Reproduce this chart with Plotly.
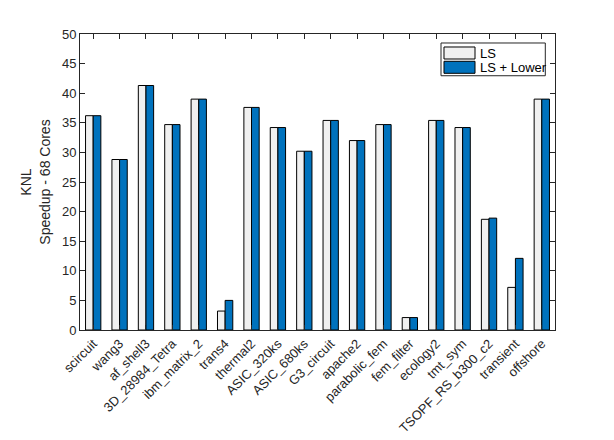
import plotly.graph_objects as go

categories = ["scircuit", "wang3", "af_shell3", "3D_28984_Tetra", "ibm_matrix_2", "trans4",
              "thermal2", "ASIC_320ks", "ASIC_680ks", "G3_circuit", "apache2", "parabolic_fem",
              "fem_filter", "ecology2", "tmt_sym", "TSOPF_RS_b300_c2", "transient", "offshore"]
ls_values = [36.2, 28.8, 41.3, 34.7, 39.0, 3.2, 37.6, 34.2, 30.2, 35.4, 32.0, 34.7,
             2.1, 35.4, 34.2, 18.7, 7.2, 39.0]
ls_lower_values = [36.2, 28.8, 41.3, 34.7, 39.0, 5.0, 37.6, 34.2, 30.2, 35.4, 32.0, 34.7,
                   2.1, 35.4, 34.2, 18.9, 12.1, 39.0]
y_ticks = [0, 5, 10, 15, 20, 25, 30, 35, 40, 45, 50]
series_names = ["LS", "LS + Lower"]
series_colors = ["#F0F0F0", "#0072BD"]

axis_color = "#262626"
font_family = "Liberation Sans, Arial, Helvetica, sans-serif"

fig = go.Figure()
for name, vals, col in zip(series_names, [ls_values, ls_lower_values], series_colors):
    fig.add_trace(go.Bar(x=categories, y=vals, name=name, showlegend=False,
                         marker=dict(color=col, line=dict(color="black", width=1))))

# Custom MATLAB-style legend (paper coordinates of the plot area)
shapes = [dict(type="rect", xref="paper", yref="paper", x0=0.760, x1=0.9796, y0=0.859, y1=0.9696,
               fillcolor="white", line=dict(color=axis_color, width=1), layer="above")]
annotations = []
swatch_rows = [(0.9155, 0.9561), (0.8672, 0.9078)]
for (y0, y1), name, col in zip(swatch_rows, series_names, series_colors):
    shapes.append(dict(type="rect", xref="paper", yref="paper", x0=0.7663, x1=0.8316, y0=y0, y1=y1,
                       fillcolor=col, line=dict(color="black", width=1), layer="above"))
    annotations.append(dict(xref="paper", yref="paper", x=0.8379, y=(y0 + y1) / 2, text=name,
                            showarrow=False, xanchor="left", yanchor="middle",
                            font=dict(size=13, color="black")))

fig.update_layout(
    width=614, height=440,
    margin=dict(l=80, r=59, t=34, b=110),
    paper_bgcolor="white", plot_bgcolor="white",
    barmode="group", bargap=0.42, bargroupgap=0.0,
    font=dict(family=font_family, size=13, color=axis_color),
    showlegend=False,
    shapes=shapes, annotations=annotations,
)
fig.update_xaxes(
    type="category", tickangle=-45, showline=True, linecolor=axis_color, linewidth=1,
    mirror="ticks", ticks="inside", ticklen=5, tickcolor=axis_color, showgrid=False,
    tickfont=dict(size=13, color=axis_color), automargin=False,
)
fig.update_yaxes(
    range=[0, 50], tickvals=y_ticks, showline=True, linecolor=axis_color, linewidth=1,
    mirror="ticks", ticks="inside", ticklen=5, tickcolor=axis_color, showgrid=False,
    zeroline=False, tickfont=dict(size=13, color=axis_color), automargin=False,
    title=dict(text="KNL<br>Speedup - 68 Cores", font=dict(size=14, color=axis_color), standoff=8),
)

fig.write_html("out.html")
